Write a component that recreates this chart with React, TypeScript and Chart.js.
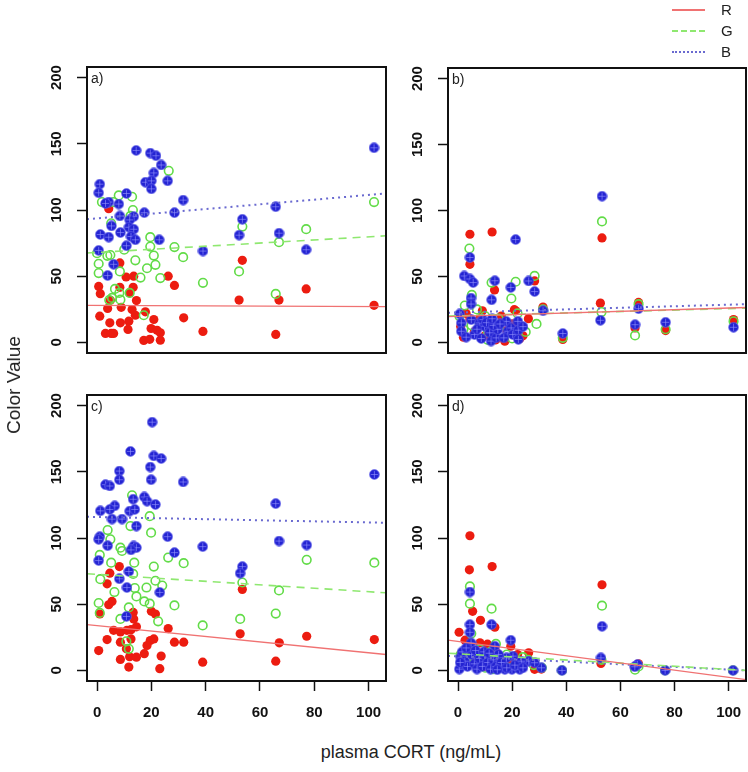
import React, { useEffect, useRef } from "react";
import { Chart, registerables } from "chart.js";

Chart.register(...registerables);

const FONT = '"Liberation Sans", Arial, Helvetica, sans-serif';

const xRange = [-3.7, 106.4];
const yRange = [-8, 208];
const xTickValues = [0, 20, 40, 60, 80, 100];
const yTickValues = [0, 50, 100, 150, 200];
const panelLabels = ["a)", "b)", "c)", "d)"];
const legendLabels = ["R", "G", "B"];
const xTitle = "plasma CORT (ng/mL)";
const yTitle = "Color Value";

type Pt = [number, number];

// ---------- panel a ----------
const aRed: Pt[] = [
  [4.3, 101], [8.4, 60], [10.7, 49.4], [13.5, 50], [26.2, 50], [28.5, 43], [0.6, 42.3], [8.4, 41.6],
  [13.3, 41.6], [1.2, 36.8], [12, 37.4], [4.9, 31.8], [14.5, 31.6], [8.9, 26.5], [3.9, 25.6], [12.9, 24.8],
  [17.8, 23.1], [1, 19.8], [14.1, 20.5], [31.9, 18.6], [20.9, 17.3], [4.7, 14.8], [8.6, 14.8], [11.7, 16],
  [11.4, 9.8], [19.9, 10.5], [22.1, 9.2], [23.3, 7.3], [3.1, 6.8], [5.2, 6.8], [6.1, 6.8], [17.2, 1.5],
  [19.4, 2.3], [23.3, 1.7], [39, 8.3], [53.5, 62], [52.3, 32], [65.8, 6], [67, 32], [77, 40.4], [102, 28],
];
const aGreen: Pt[] = [
  [26.4, 129.6], [8, 111], [12.9, 110], [1.8, 106], [6.1, 106], [13.2, 100], [12.3, 95.5], [5.2, 90],
  [19.6, 79.5], [19.6, 72.4], [28.5, 72], [31.7, 64.4], [20.9, 65.6], [14.1, 62], [21.5, 58.6], [18.4, 56],
  [0, 67.4], [4.9, 66], [0.6, 59.4], [0.6, 52.4], [8.4, 53.6], [23.3, 48.6], [8.2, 37.4], [5.5, 33.6],
  [12, 37.4], [8.6, 32.3], [17.2, 20.5], [4.5, 32], [6.6, 40.4], [39, 45], [52.3, 53.6], [53.5, 87.5],
  [65.8, 36.6], [67, 75.7], [77, 85.5], [102, 106], [3.8, 65.4], [10, 70], [16, 49],
];
const aBlue: Pt[] = [
  [14.4, 145], [19.6, 143], [21.7, 141], [23.6, 134], [20.9, 128], [17.8, 121], [20, 122], [26, 122],
  [20, 116], [1, 119.5], [0.6, 113], [10.8, 112.5], [31.7, 107.5], [4.3, 106], [3.1, 105], [8, 104.5],
  [17.4, 98], [28.5, 98], [8.4, 95.5], [13.5, 95], [12, 92.5], [5.3, 88], [11.7, 87], [13.5, 85.5],
  [8.6, 83], [1.2, 81.5], [4.3, 79.5], [12.5, 80], [14.1, 77.5], [22.9, 77.5], [10.8, 73], [0.6, 69.5],
  [6.1, 59], [3.9, 50.5], [39, 69], [53.5, 93], [52.3, 81], [65.8, 102.5], [67, 82.5], [77, 70], [102, 147],
];
const aTrendR = [28, 27];
const aTrendG = [67.5, 80.5];
const aTrendB = [93, 112.5];

// ---------- panel b ----------
const bRed: Pt[] = [
  [4.4, 82], [12.6, 83.7], [4.4, 59.2], [53.2, 79.2], [52.6, 29.8], [66.7, 30.3], [65.4, 11], [76.7, 9],
  [101.8, 17.3], [38.7, 2.3], [31.4, 26.8], [28.3, 46.6], [21.3, 24], [13.5, 39.8], [20.8, 24.8],
  [17.3, 1], [22.8, 2.8], [4.4, 17.8], [1, 12], [3, 22], [6, 8], [8, 18], [10, 5], [12, 14], [14, 2],
  [16, 20], [18, 9], [20, 14], [24, 5], [26, 18], [9, 24], [2, 4],
];
const bGreen: Pt[] = [
  [4.2, 71.2], [53.2, 91.7], [53, 23], [66.7, 29], [65.4, 5.3], [76.7, 10], [101.8, 16], [38.7, 3.5],
  [31.4, 25], [28.3, 50.4], [21.3, 46], [19.7, 33.3], [12.4, 45.4], [5.1, 36], [2.5, 28], [0.5, 20],
  [2, 10], [5, 13], [8, 8], [10, 20], [13, 5], [15, 18], [18, 12], [20, 3], [22, 22], [25, 8],
  [7, 25], [14, 10], [29, 14], [11, 2],
];
const bBlue: Pt[] = [
  [53.2, 110.8], [52.6, 16.8], [66.7, 25.6], [65.4, 13.5], [76.7, 15.3], [101.8, 11.5], [38.7, 6.8],
  [31.4, 24], [28.3, 38.6], [26.1, 46.6], [21.3, 78], [19.5, 41.7], [13.6, 46.8], [12.4, 32.3],
  [4.4, 64.4], [2.3, 50.4], [4.4, 48.1], [5.6, 45.4], [4.8, 33.6], [4.8, 29.1], [0.6, 21.6], [1.2, 14.8],
  [1.2, 8.5], [4.9, 17.3], [6.1, 6], [8, 14.8], [9.2, 17.3], [9.8, 12.3], [11.7, 7.3], [12.2, 1],
  [14.1, 3.5], [14.7, 9.8], [17.8, 16], [18.4, 8.5], [19.6, 11], [20.2, 6], [22.1, 16], [22.3, 9.3],
  [22.3, 2.3], [16.9, 3.5], [8.6, 3], [3, 4], [10.5, 15], [13, 13], [7, 10], [24, 12], [12.6, 18], [15.5, 14],
];
const bTrendR = [19.5, 26.5];
const bTrendG = [20, 26];
const bTrendB = [22.5, 29];

// ---------- panel c ----------
const cRed: Pt[] = [
  [8.2, 78.4], [4.7, 73.4], [3.7, 65.4], [5.5, 52.1], [4.3, 49.6], [1, 42.6], [13.3, 43.8], [20, 44.6],
  [21.5, 42.6], [13.5, 38.9], [26.2, 31.6], [6.1, 30.3], [8.6, 29.1], [11, 30.3], [12.5, 30.8], [14.5, 32.9],
  [3.7, 23.3], [8.6, 21.3], [12.5, 23.8], [19.6, 22.6], [20.9, 23.8], [28.5, 21.3], [31.9, 21.3],
  [18.4, 18.8], [0.6, 15], [10.8, 16.3], [8.6, 8.3], [12, 10.3], [14.5, 10], [17.4, 12.6], [23.6, 10.8],
  [23.1, 1.3], [11.7, 2.5], [53.5, 61.2], [52.7, 27.6], [67.1, 20.8], [65.8, 7], [77.2, 25.8],
  [102.1, 23.3], [38.9, 6.2],
];
const cGreen: Pt[] = [
  [12.9, 132.3], [19.4, 116.5], [12.3, 109], [3.9, 106], [19.9, 104], [4.9, 99], [8.6, 92.7], [9.2, 90.2],
  [1, 87.2], [5.2, 81.4], [13.7, 81.4], [26.2, 85.2], [31.9, 81], [20.9, 78.4], [1.2, 68.9], [13.3, 72.9],
  [21.5, 67.7], [18.2, 62.6], [13.9, 62.2], [24, 64.1], [6.4, 59.2], [14.5, 55.9], [28.5, 49.1],
  [0.6, 50.9], [17.4, 52.1], [11.7, 47.6], [19.4, 50.4], [8.6, 38.9], [22.5, 37.1], [10.8, 22],
  [11.7, 16.3], [1, 43.4], [102.1, 81.4], [77.2, 83.5], [67, 60.4], [53.5, 66.4], [65.8, 42.9],
  [52.7, 38.9], [38.9, 34],
];
const cBlue: Pt[] = [
  [20.3, 187.5], [12.3, 165.4], [20.9, 162], [23.6, 160], [19.6, 153.6], [8.2, 150.6], [8.2, 144],
  [19.9, 144], [31.7, 142.3], [3.1, 140.3], [4.7, 139.3], [13.3, 129.3], [17.4, 131], [18.4, 127.8],
  [21.5, 125.3], [6.5, 124.3], [1.2, 120.5], [4.7, 121.6], [12, 120.3], [13.9, 121.6], [5.5, 114.3],
  [9.2, 114.3], [14.5, 109], [1, 101], [0.6, 99], [26, 101], [3.9, 94.2], [13.5, 94], [14.5, 92.7],
  [12.5, 91], [28.5, 89], [0.6, 83], [11.7, 74.7], [8.2, 69.2], [11, 62.6], [23.1, 58.9], [10.8, 40.8],
  [102.1, 148], [65.8, 126], [67, 97.7], [77.2, 94.7], [53.5, 78.4], [52.7, 73.4], [38.9, 93.5],
];
const cTrendR = [34.6, 12];
const cTrendG = [73, 58.6];
const cTrendB = [116, 111.5];

// ---------- panel d ----------
const dRed: Pt[] = [
  [4.4, 101.7], [4.2, 76], [12.6, 78.4], [53.2, 64.7], [5.4, 44.6], [8.3, 37.8], [13.6, 32.6], [0.4, 28.8],
  [2.6, 22.8], [8.1, 20.8], [10.9, 19.8], [19.5, 18.3], [52.8, 5.3], [26.1, 13.3], [28.3, 0.8], [4, 15],
  [6, 8], [12, 10], [15, 5], [18, 2], [22, 12], [24, 4], [10, 3], [2, 6], [65.4, 3], [76.5, 0],
  [101.6, 0], [38.4, 0], [30.8, 1], [14, 14], [20, 6], [8, 12], [1, 12], [17, 9], [66.7, 5],
];
const dGreen: Pt[] = [
  [4.4, 63.4], [53.2, 48.9], [4.4, 50.4], [12.4, 46.6], [4.9, 27.8], [4, 18], [1, 12], [6, 10], [9, 6],
  [12, 14], [14, 20], [16, 4], [19, 8], [21, 2], [24, 10], [28, 4], [31, 2], [38.4, 0], [53, 8],
  [65.4, 0.5], [66.7, 3], [76.5, 0], [101.6, 0], [3, 8], [10, 2], [8, 16], [18, 12], [26, 8], [13, 1],
];
const dBlue: Pt[] = [
  [4.4, 59.2], [53.2, 33.3], [4.4, 34.6], [12.4, 34.6], [4.4, 28.8], [13.6, 18.3], [4.8, 20.8],
  [19.5, 22.8], [52.8, 9.5], [66.3, 4.5], [65.3, 2.8], [76.5, 0], [101.6, 0], [38.4, 0], [30.8, 2],
  [26.1, 7], [28.3, 5.8], [23.4, 7], [20.3, 10.8], [17.9, 9.5], [19.9, 0.8], [17.3, 0.8], [22.8, 0.8],
  [0.5, 1], [1, 10], [1.5, 14], [2.5, 7], [3.5, 3], [5, 12], [6, 5], [7, 1], [8, 9], [9, 3], [10, 11],
  [11, 6], [12, 1], [13, 8], [14, 3], [15, 12], [16, 6], [18, 2], [21, 4], [24, 2], [3, 17], [6.5, 15],
  [9.5, 14], [0.8, 6], [11.5, 13], [14.5, 0.5],
];
const dTrendR = [22.8, -7];
const dTrendG = [13, 0];
const dTrendB = [11, 0];

const RED = "#ec1c10";
const GREEN = "#62dc48";
const BLUE = "#2323d2";

function makeBlueMarker(): HTMLCanvasElement {
  const c = document.createElement("canvas");
  c.width = 11;
  c.height = 11;
  const g = c.getContext("2d")!;
  g.beginPath();
  g.arc(5.5, 5.5, 4.9, 0, Math.PI * 2);
  g.fillStyle = BLUE;
  g.fill();
  g.lineWidth = 0.7;
  g.strokeStyle = "rgba(110,110,240,0.9)";
  g.stroke();
  g.beginPath();
  g.moveTo(1.8, 5.5);
  g.lineTo(9.2, 5.5);
  g.moveTo(5.5, 1.8);
  g.lineTo(5.5, 9.2);
  g.strokeStyle = "rgba(150,150,255,0.85)";
  g.lineWidth = 0.7;
  g.stroke();
  return c;
}

type Box = {
  left: number; top: number; width: number; height: number;
  yWidth: number; padTop: number; padRight: number; padBottom: number; xHeight: number;
};

type PanelProps = {
  label: string; red: Pt[]; green: Pt[]; blue: Pt[];
  trendR: number[]; trendG: number[]; trendB: number[];
  showX: boolean; box: Box;
};

const toXY = (arr: Pt[]) => arr.map(([x, y]) => ({ x, y }));
const trendXY = (t: number[]) => [{ x: xRange[0], y: t[0] }, { x: xRange[1], y: t[1] }];

function Panel(p: PanelProps) {
  const ref = useRef<HTMLCanvasElement | null>(null);
  useEffect(() => {
    if (!ref.current) return;
    const marker = makeBlueMarker();
    const frame = {
      id: "frame" + p.label,
      afterDatasetsDraw(chart: any) {
        const { ctx, chartArea } = chart;
        const { left, top, right, bottom } = chartArea;
        ctx.save();
        ctx.strokeStyle = "#111";
        ctx.lineWidth = 2;
        ctx.strokeRect(left, top, right - left, bottom - top);
        ctx.fillStyle = "#222";
        ctx.font = `14px ${FONT}`;
        ctx.textBaseline = "top";
        ctx.textAlign = "left";
        ctx.fillText(p.label, left + 4, top + 5);
        ctx.restore();
      },
    };
    const tickFont = { family: FONT, size: 15, weight: "bold" as const };
    const chart = new Chart(ref.current, {
      type: "scatter",
      data: {
        datasets: [
          { type: "line", data: trendXY(p.trendR), borderColor: "#f07272", borderWidth: 1.3, pointRadius: 0, fill: false, order: 0 } as any,
          { type: "line", data: trendXY(p.trendG), borderColor: "#8fe870", borderWidth: 1.6, borderDash: [8, 6], pointRadius: 0, fill: false, order: 1 } as any,
          { type: "line", data: trendXY(p.trendB), borderColor: "#6a6ad0", borderWidth: 2, borderDash: [2, 4], pointRadius: 0, fill: false, order: 2 } as any,
          { data: toXY(p.blue), pointStyle: marker as any, pointRadius: 5, order: 3 } as any,
          { data: toXY(p.green), pointStyle: "circle", pointRadius: 4.3, backgroundColor: "rgba(0,0,0,0)", borderColor: GREEN, borderWidth: 1.6, order: 4 } as any,
          { data: toXY(p.red), pointStyle: "circle", pointRadius: 4.6, backgroundColor: RED, borderWidth: 0, order: 5 } as any,
        ],
      },
      options: {
        responsive: false,
        animation: false,
        devicePixelRatio: 1,
        events: [],
        layout: { padding: { left: 0, top: p.box.padTop, right: p.box.padRight, bottom: p.box.padBottom } },
        plugins: { legend: { display: false }, tooltip: { enabled: false } },
        scales: {
          x: {
            type: "linear",
            min: xRange[0],
            max: xRange[1],
            display: p.showX,
            afterBuildTicks: (s: any) => { s.ticks = xTickValues.map((v) => ({ value: v })); },
            afterFit: (s: any) => { s.height = p.box.xHeight; },
            grid: { drawOnChartArea: false, drawTicks: true, tickLength: 10, tickColor: "#111", tickWidth: 1.5 },
            border: { display: false },
            ticks: { maxRotation: 0, minRotation: 0, padding: 13, color: "#111", font: tickFont },
          },
          y: {
            type: "linear",
            min: yRange[0],
            max: yRange[1],
            afterBuildTicks: (s: any) => { s.ticks = yTickValues.map((v) => ({ value: v })); },
            afterFit: (s: any) => { s.width = p.box.yWidth; },
            grid: { drawOnChartArea: false, drawTicks: true, tickLength: 10, tickColor: "#111", tickWidth: 1.5 },
            border: { display: false },
            ticks: { minRotation: 90, maxRotation: 90, crossAlign: "center", padding: 8, color: "#111", font: tickFont },
          },
        },
      },
      plugins: [frame],
    });
    return () => chart.destroy();
  }, []);
  return (
    <canvas
      ref={ref}
      width={p.box.width}
      height={p.box.height}
      style={{ position: "absolute", left: p.box.left, top: p.box.top, width: p.box.width, height: p.box.height }}
    />
  );
}

const boxA: Box = { left: 0, top: 40, width: 400, height: 343, yWidth: 87, padTop: 27, padRight: 14, padBottom: 30, xHeight: 0 };
const boxB: Box = { left: 390, top: 40, width: 370, height: 343, yWidth: 58, padTop: 28, padRight: 14, padBottom: 30, xHeight: 0 };
const boxC: Box = { left: 0, top: 365, width: 400, height: 365, yWidth: 87, padTop: 30, padRight: 14, padBottom: 0, xHeight: 49 };
const boxD: Box = { left: 390, top: 365, width: 370, height: 365, yWidth: 58, padTop: 30, padRight: 14, padBottom: 0, xHeight: 49 };

const legendColors = ["#f07272", "#8fe870", "#6a6ad0"];
const legendStyles = ["solid", "dashed", "dotted"];
const legendYs = [10, 31, 52];

export default function App() {
  return (
    <div style={{ position: "absolute", left: 0, top: 0, width: 748, height: 772, overflow: "hidden", background: "#fff", fontFamily: FONT }}>
      <Panel label={panelLabels[0]} red={aRed} green={aGreen} blue={aBlue} trendR={aTrendR} trendG={aTrendG} trendB={aTrendB} showX={false} box={boxA} />
      <Panel label={panelLabels[1]} red={bRed} green={bGreen} blue={bBlue} trendR={bTrendR} trendG={bTrendG} trendB={bTrendB} showX={false} box={boxB} />
      <Panel label={panelLabels[2]} red={cRed} green={cGreen} blue={cBlue} trendR={cTrendR} trendG={cTrendG} trendB={cTrendB} showX={true} box={boxC} />
      <Panel label={panelLabels[3]} red={dRed} green={dGreen} blue={dBlue} trendR={dTrendR} trendG={dTrendG} trendB={dTrendB} showX={true} box={boxD} />
      {legendLabels.map((l, i) => (
        <React.Fragment key={l}>
          <div style={{ position: "absolute", left: 672, top: legendYs[i] - 1, width: 33, height: 0, borderTop: `2px ${legendStyles[i]} ${legendColors[i]}` }} />
          <div style={{ position: "absolute", left: 721, top: legendYs[i] - 9, fontSize: 15, lineHeight: "18px", color: "#222" }}>{l}</div>
        </React.Fragment>
      ))}
      <div style={{ position: "absolute", left: 14, top: 385, transform: "translate(-50%, -50%) rotate(-90deg)", fontSize: 19, whiteSpace: "nowrap", color: "#222" }}>{yTitle}</div>
      <div style={{ position: "absolute", left: 411, top: 752, transform: "translate(-50%, -50%)", fontSize: 18, whiteSpace: "nowrap", color: "#222" }}>{xTitle}</div>
    </div>
  );
}
